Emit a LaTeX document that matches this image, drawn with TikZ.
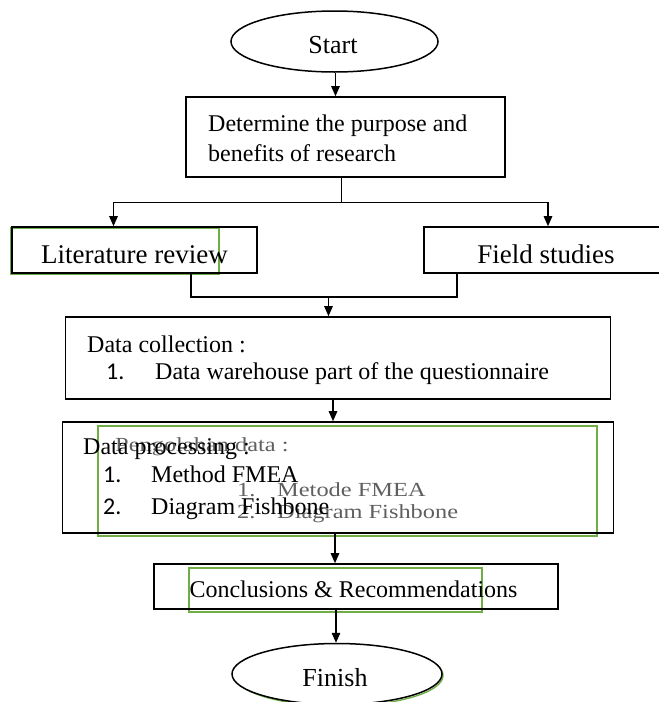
\documentclass[tikz,border=0pt]{standalone}
\usepackage{fontspec}
\setmainfont{Liberation Serif}
\newfontfamily\numfont{Carlito}
\usetikzlibrary{arrows.meta,shapes.geometric,calc}
\definecolor{leafgreen}{RGB}{112,173,71}
\definecolor{ghostgray}{RGB}{95,95,95}
\newcommand{\ghosttext}[1]{\scalebox{1.22}[1]{#1}}
\begin{document}
\begin{tikzpicture}[x=1pt,y=-1pt,
  every node/.style={font=\fontsize{24}{29}\selectfont, inner sep=0pt},
  big/.style={font=\fontsize{27}{32}\selectfont},
  term/.style={draw, line width=1.5pt, ellipse, fill=white, minimum width=207pt, minimum height=61pt},
  boxnode/.style={draw, line width=1.6pt, rectangle},
  greenbox/.style={draw=leafgreen, line width=1.3pt},
  link/.style={line width=1.3pt},
  arr/.style={link, -{Triangle[length=10pt,width=8.5pt]}},
  ghost/.style={text=ghostgray, font=\fontsize{20}{24}\selectfont},
  num/.style={font=\numfont\fontsize{24}{29}\selectfont}
]
\useasboundingbox (0,0) rectangle (659,702);
\clip (0,0) rectangle (659,702);

% green outlines lying under some of the boxes
\draw[greenbox] (11,228) rectangle (219,274.5);
\draw[greenbox] (98,426) rectangle (597,536);
\draw[greenbox] (189,568) rectangle (482,612);
\draw[draw=leafgreen, line width=1.4pt] (339,675.5) ellipse (104pt and 30.5pt);

% terminals
\node[term] (start) at (334.5,41.5) {};
\node[anchor=base, font=\fontsize{26}{31}\selectfont] (startT) at (333,53) {Start};
\node[term, minimum width=210pt] (finish) at (337,674) {};
\node[anchor=base, font=\fontsize{26}{31}\selectfont] (finishT) at (335,686) {Finish};

% process boxes
\node[boxnode, minimum width=319pt, minimum height=80pt] (purpose) at (345.5,137) {};
\node[anchor=base west] (purposeA) at (208,131) {Determine the purpose and};
\node[anchor=base west] (purposeB) at (208,161) {benefits of research};

\node[boxnode, minimum width=245pt, minimum height=46pt] (lit) at (134.5,250) {};
\node[anchor=base, big] (litT) at (134.5,263) {Literature review};

\node[boxnode, minimum width=240pt, minimum height=46pt] (field) at (544,250) {};
\node[anchor=base, big] (fieldT) at (546,263) {Field studies};

\node[boxnode, minimum width=545pt, minimum height=82pt] (dc) at (338,358) {};
\node[anchor=base west] (dcT) at (87,352) {Data collection :};
\node[anchor=base west, num] (dcN) at (106,379) {1.};
\node[anchor=base west] (dcI) at (155,379) {Data warehouse part of the questionnaire};

\node[boxnode, minimum width=551pt, minimum height=111pt] (dp) at (338,477.5) {};
\node[anchor=base west, ghost] (dpG) at (115,451) {\ghosttext{Pengolahan data :}};
\node[anchor=base west, ghost] (dpGN1) at (237,496) {\ghosttext{1.}};
\node[anchor=base west, ghost] (dpGI1) at (277,496) {\ghosttext{Metode FMEA}};
\node[anchor=base west, ghost] (dpGN2) at (237,518) {\ghosttext{2.}};
\node[anchor=base west, ghost] (dpGI2) at (277,518) {\ghosttext{Diagram Fishbone}};
\node[anchor=base west] (dpT) at (83,454) {Data processing :};
\node[anchor=base west, num] (dpN1) at (103,482) {1.};
\node[anchor=base west] (dpI1) at (151,482) {Method FMEA};
\node[anchor=base west, num] (dpN2) at (103,514) {2.};
\node[anchor=base west] (dpI2) at (151,514) {Diagram Fishbone};

\node[boxnode, minimum width=404pt, minimum height=45pt] (conc) at (356,586.5) {};
\node[anchor=base] (concT) at (353.5,597) {Conclusions \& Recommendations};

% connectors
\draw[arr] ([xshift=1pt]start.south) -- ([xshift=1pt]start.south |- purpose.north);
\draw[link] ([xshift=-4pt]purpose.south) -- ++(0,25) coordinate (split);
\draw[arr] (split) -| ([xshift=-21pt]lit.north);
\draw[arr] (split) -| ([xshift=4pt]field.north);
\coordinate (join) at (328.5,297);
\draw[link] ([xshift=56.5pt]lit.south) |- (join) -| ([xshift=-87pt]field.south);
\draw[arr] (join) -- (join |- dc.north);
\draw[arr] ([xshift=-5pt]dc.south) -- ([xshift=-5pt]dp.north);
\draw[arr] ([xshift=-3pt]dp.south) -- ([xshift=-3pt]dp.south |- conc.north);
\draw[arr] ([xshift=-20pt]conc.south) -- ([xshift=-20pt]conc.south |- finish.north);
\end{tikzpicture}
\end{document}
